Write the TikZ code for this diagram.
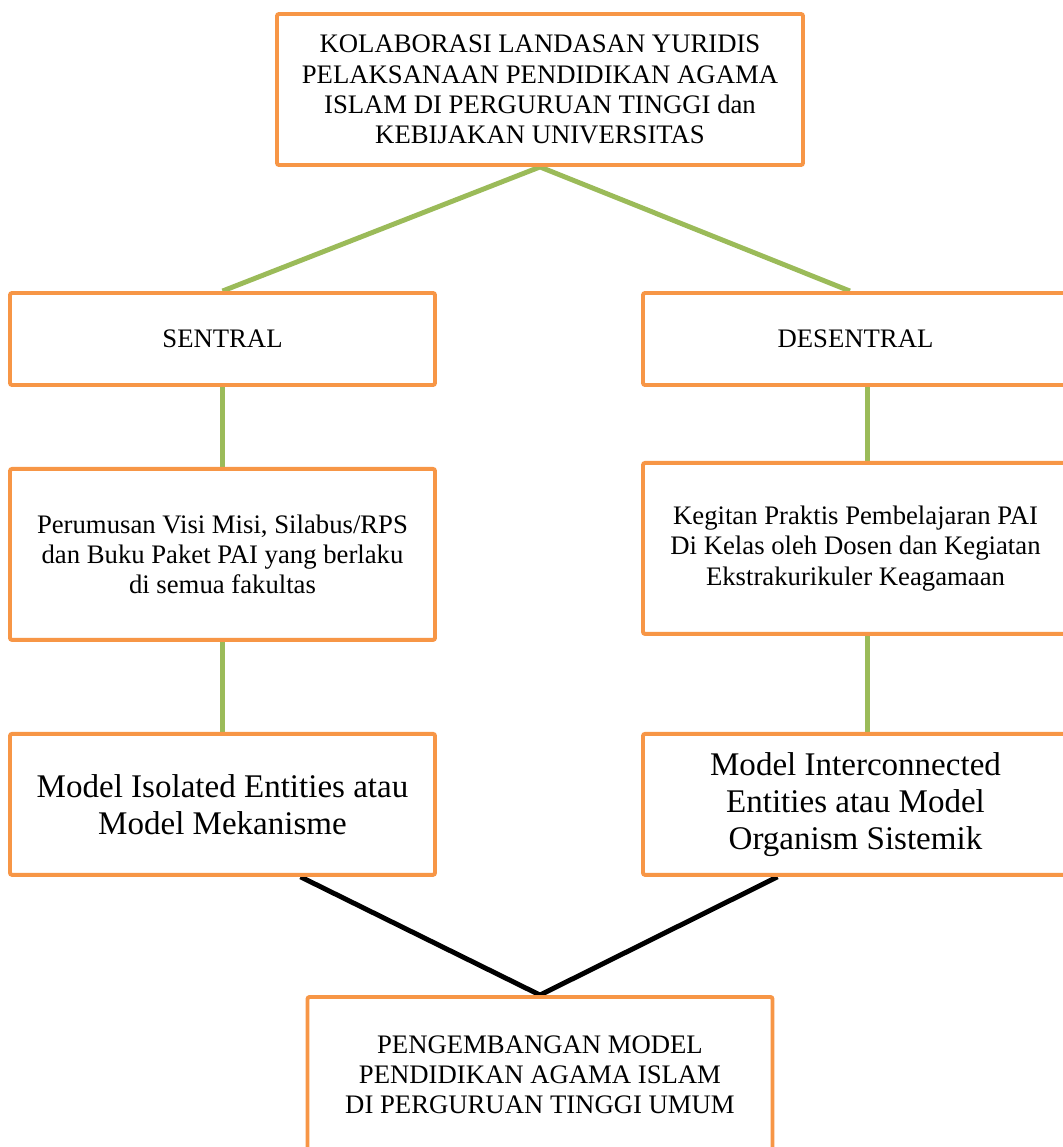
\documentclass[tikz,border=0pt]{standalone}
\usepackage{fontspec}
\setmainfont{Liberation Serif}
\usepackage{tikz}
\usetikzlibrary{positioning,calc,backgrounds}
\definecolor{boxorange}{RGB}{247,150,70}
\definecolor{linkgreen}{RGB}{155,187,89}
\tikzset{
  box/.style={rounded corners=1.5pt, draw=boxorange, line width=2.8pt, fill=white, align=center, inner sep=4pt, minimum width=10.625cm, font=\fontsize{19}{21.5}\selectfont},
  bigbox/.style={box, font=\fontsize{23.5}{26.5}\selectfont},
  glink/.style={draw=linkgreen, line width=3.5pt},
  blink/.style={draw=black, line width=3.5pt},
}

\begin{document}
\begin{tikzpicture}
  \useasboundingbox (0,0) rectangle (26.55,-28.675);
  \node[box, minimum width=13.15cm, minimum height=3.775cm] (kolab) at (13.5,-2.2375)
    {KOLABORASI LANDASAN YURIDIS\\PELAKSANAAN PENDIDIKAN AGAMA\\ISLAM DI PERGURUAN TINGGI dan\\KEBIJAKAN UNIVERSITAS};
  % left column
  \node[box, minimum height=2.3cm] (sentral) at (5.5625,-8.475) {SENTRAL};
  \node[box, minimum height=4.275cm, below=2.0cm of sentral] (perumusan)
    {Perumusan Visi Misi, Silabus/RPS\\dan Buku Paket PAI yang berlaku\\di semua fakultas};
  \node[bigbox, minimum height=3.525cm, below=2.25cm of perumusan] (isolated)
    {Model Isolated Entities atau\\Model Mekanisme};
  % right column
  \node[box, minimum height=2.3cm] (desentral) at (21.3875,-8.475) {DESENTRAL};
  \node[box, minimum height=4.275cm, below=1.85cm of desentral] (kegiatan)
    {Kegitan Praktis Pembelajaran PAI\\Di Kelas oleh Dosen dan Kegiatan\\Ekstrakurikuler Keagamaan};
  \node[bigbox, minimum height=3.525cm, below=2.4cm of kegiatan] (interconnected)
    {Model Interconnected\\Entities atau Model\\Organism Sistemik};
  \node[box, minimum width=11.625cm, minimum height=3.9cm] (pengembangan) at (13.5,-26.875)
    {PENGEMBANGAN MODEL\\PENDIDIKAN AGAMA ISLAM\\DI PERGURUAN TINGGI UMUM};

  \begin{scope}[on background layer]
    \draw[glink] (sentral.north) -- (kolab.south) -- ([xshift=-0.14cm]desentral.north);
    \draw[glink] (sentral) -- (perumusan);
    \draw[glink] (perumusan) -- (isolated);
    \draw[glink] ([xshift=0.31cm]desentral.center) -- ([xshift=0.31cm]kegiatan.center);
    \draw[glink] ([xshift=0.31cm]kegiatan.center) -- ([xshift=0.31cm]interconnected.center);
    \draw[blink] ([xshift=1.95cm]isolated.south) -- (pengembangan.north) -- ([xshift=-1.95cm]interconnected.south);
  \end{scope}
\end{tikzpicture}
\end{document}
